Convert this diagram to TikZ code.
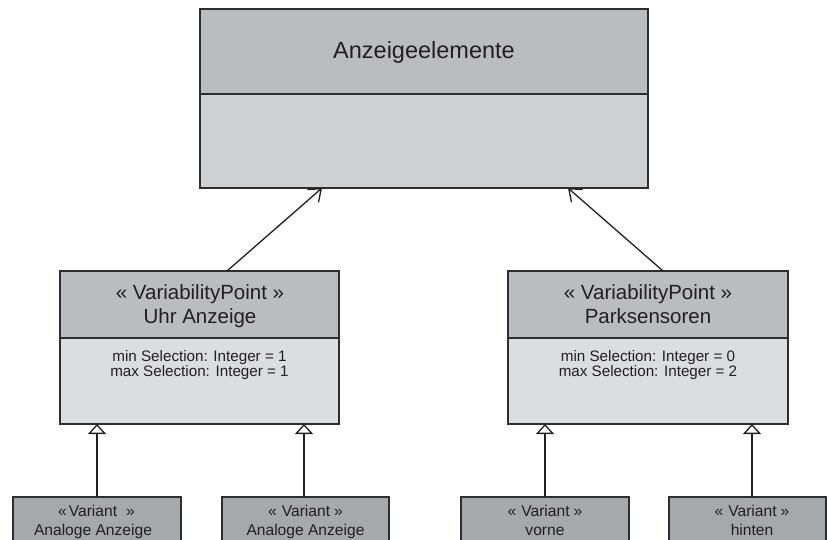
\documentclass[tikz,border=0pt]{standalone}
\usepackage{fontspec}
\setmainfont{Liberation Sans}
\usetikzlibrary{arrows.meta}
\definecolor{headgray}{HTML}{BBBCBF}
\definecolor{topbody}{HTML}{D0D1D3}
\definecolor{midbody}{HTML}{DCDDDF}
\definecolor{vargray}{HTML}{A7A8AB}
\definecolor{edge}{HTML}{2E2E2E}
\definecolor{ink}{HTML}{231F20}
\begin{document}
\begin{tikzpicture}[x=1pt,y=-1pt,
  box/.style={draw=edge, line width=1.6pt, inner sep=0pt, outer sep=0pt},
  lbl/.style={anchor=base, inner sep=0pt, text=ink},
  titlefont/.style={font=\fontsize{23.5}{28}\selectfont},
  headfont/.style={font=\fontsize{20.5}{24}\selectfont},
  attrfont/.style={font=\fontsize{15.2}{18}\selectfont},
  varfont/.style={font=\fontsize{15.6}{19}\selectfont},
  assoc/.style={draw=ink, line width=1.3pt, -{Straight Barb[length=11pt,width=17pt,line width=1.3pt]}},
  gen/.style={draw=ink, line width=1.3pt, -{Triangle[open,length=10pt,width=18pt,line width=1.3pt,fill=white]}}
]
\useasboundingbox (0,0) rectangle (827,539);
\clip (0,0) rectangle (827,539);

% top class
\node[box, fill=topbody, minimum width=448pt, minimum height=94pt] (topBody) at (424,141) {};
\node[box, fill=headgray, minimum width=448pt, minimum height=85pt] (topHead) at (424,51.5) {};
\node[lbl, titlefont] (topTitle) at (424,58.3) {Anzeigeelemente};

% variability point: Uhr Anzeige
\node[box, fill=midbody, minimum width=279pt, minimum height=86pt] (vpLbody) at (199.5,381) {};
\node[box, fill=headgray, minimum width=279pt, minimum height=67pt] (vpLhead) at (199.5,304.5) {};
\node[lbl, headfont] (vpLst) at (200,299) {« VariabilityPoint »};
\node[lbl, headfont] (vpLname) at (200,323) {Uhr Anzeige};
\node[lbl, attrfont] (vpLmin) at (199.5,361) {min Selection: Integer = 1};
\node[lbl, attrfont] (vpLmax) at (199.5,376.7) {max Selection: Integer = 1};

% variability point: Parksensoren
\node[box, fill=midbody, minimum width=280pt, minimum height=86pt] (vpRbody) at (648,381) {};
\node[box, fill=headgray, minimum width=280pt, minimum height=67pt] (vpRhead) at (648,304.5) {};
\node[lbl, headfont] (vpRst) at (648,299) {« VariabilityPoint »};
\node[lbl, headfont] (vpRname) at (648,323) {Parksensoren};
\node[lbl, attrfont] (vpRmin) at (648,361) {min Selection: Integer = 0};
\node[lbl, attrfont] (vpRmax) at (648,376.7) {max Selection: Integer = 2};

% variants
\node[box, fill=vargray, minimum width=168pt, minimum height=70pt] (v1) at (97,532) {};
\node[box, fill=vargray, minimum width=167pt, minimum height=70pt] (v2) at (305.5,532) {};
\node[box, fill=vargray, minimum width=168pt, minimum height=70pt] (v3) at (545,532) {};
\node[box, fill=vargray, minimum width=157pt, minimum height=70pt] (v4) at (747.5,532) {};
\node[lbl, varfont] (v1st) at (96.5,516) {«\kern2pt Variant\kern9pt»};
\node[lbl, varfont] (v1nm) at (93,535) {Analoge Anzeige};
\node[lbl, varfont] (v2st) at (305.5,516) {«\kern5pt Variant\kern4pt»};
\node[lbl, varfont] (v2nm) at (305.5,535) {Analoge Anzeige};
\node[lbl, varfont] (v3st) at (545,516) {«\kern5pt Variant\kern4pt»};
\node[lbl, varfont] (v3nm) at (545,535) {vorne};
\node[lbl, varfont] (v4st) at (752,516) {«\kern5pt Variant\kern4pt»};
\node[lbl, varfont] (v4nm) at (752,535) {hinten};

% associations to the parent class
\draw[assoc] ([xshift=27.5pt]vpLhead.north) -- ([xshift=-102pt]topBody.south);
\draw[assoc] ([xshift=15pt]vpRhead.north) -- ([xshift=144pt]topBody.south);

% generalisations of the variants
\draw[gen] (v1.north) -- (v1.north |- vpLbody.south);
\draw[gen] ([xshift=-1.5pt]v2.north) -- ([xshift=-1.5pt]v2.north |- vpLbody.south);
\draw[gen] (v3.north) -- (v3.north |- vpRbody.south);
\draw[gen] ([xshift=4.5pt]v4.north) -- ([xshift=4.5pt]v4.north |- vpRbody.south);
\end{tikzpicture}
\end{document}
